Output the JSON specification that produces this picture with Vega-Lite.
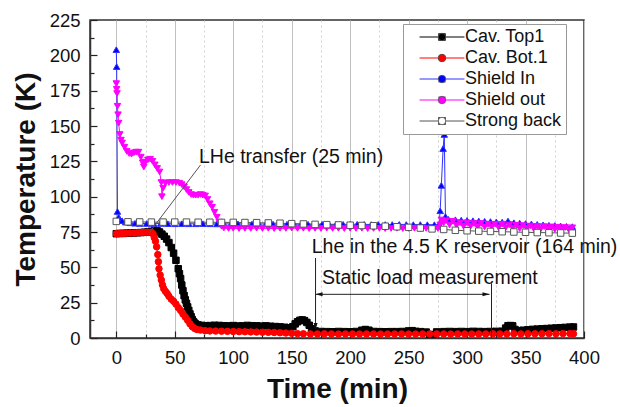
{
  "$schema": "https://vega.github.io/schema/vega-lite/v6.json",
  "width": 494,
  "height": 318,
  "autosize": {"type": "none"},
  "padding": {"left": 90, "top": 20, "right": 36, "bottom": 69},
  "background": "white",
  "config": {
    "font": "Liberation Sans",
    "view": {"stroke": "#333333", "strokeWidth": 1.5},
    "axis": {"labelFont": "Liberation Sans", "titleFont": "Liberation Sans", "labelOverlap": false, "labelBound": false},
    "legend": {"labelFont": "Liberation Sans"}
  },
  "data": {"values": [
    {"series":"Cav. Top1","time":0,"temp":73.8},{"series":"Cav. Top1","time":3,"temp":74},{"series":"Cav. Top1","time":6,"temp":74},{"series":"Cav. Top1","time":9,"temp":74.2},{"series":"Cav. Top1","time":12,"temp":74.3},{"series":"Cav. Top1","time":15,"temp":74.4},{"series":"Cav. Top1","time":18,"temp":74.5},{"series":"Cav. Top1","time":21,"temp":74.6},{"series":"Cav. Top1","time":24,"temp":74.8},{"series":"Cav. Top1","time":27,"temp":75},{"series":"Cav. Top1","time":30,"temp":75.5},{"series":"Cav. Top1","time":33,"temp":76},{"series":"Cav. Top1","time":35,"temp":75.8},{"series":"Cav. Top1","time":37,"temp":75},{"series":"Cav. Top1","time":39,"temp":73.5},{"series":"Cav. Top1","time":41,"temp":72},{"series":"Cav. Top1","time":43,"temp":70},{"series":"Cav. Top1","time":45,"temp":67.5},{"series":"Cav. Top1","time":47,"temp":64},{"series":"Cav. Top1","time":49,"temp":60},{"series":"Cav. Top1","time":51,"temp":55},{"series":"Cav. Top1","time":53,"temp":49},{"series":"Cav. Top1","time":54,"temp":45.5},{"series":"Cav. Top1","time":55,"temp":42},{"series":"Cav. Top1","time":56,"temp":37.5},{"series":"Cav. Top1","time":57,"temp":33.5},{"series":"Cav. Top1","time":58,"temp":30},{"series":"Cav. Top1","time":59,"temp":27},{"series":"Cav. Top1","time":60,"temp":24.5},{"series":"Cav. Top1","time":61,"temp":22},{"series":"Cav. Top1","time":62,"temp":19.5},{"series":"Cav. Top1","time":63,"temp":17},{"series":"Cav. Top1","time":64,"temp":15},{"series":"Cav. Top1","time":65,"temp":13},{"series":"Cav. Top1","time":66,"temp":11.5},{"series":"Cav. Top1","time":67,"temp":10.5},{"series":"Cav. Top1","time":68,"temp":9.8},{"series":"Cav. Top1","time":70,"temp":9.2},{"series":"Cav. Top1","time":73,"temp":8.9},{"series":"Cav. Top1","time":76,"temp":8.7},{"series":"Cav. Top1","time":80,"temp":8.8},{"series":"Cav. Top1","time":84,"temp":9},{"series":"Cav. Top1","time":88,"temp":8.9},{"series":"Cav. Top1","time":92,"temp":8.7},{"series":"Cav. Top1","time":96,"temp":8.6},{"series":"Cav. Top1","time":100,"temp":8.8},{"series":"Cav. Top1","time":104,"temp":8.5},{"series":"Cav. Top1","time":108,"temp":8.6},{"series":"Cav. Top1","time":112,"temp":8.9},{"series":"Cav. Top1","time":116,"temp":8.7},{"series":"Cav. Top1","time":120,"temp":8.6},{"series":"Cav. Top1","time":124,"temp":8.4},{"series":"Cav. Top1","time":128,"temp":8.6},{"series":"Cav. Top1","time":132,"temp":8.3},{"series":"Cav. Top1","time":136,"temp":8.1},{"series":"Cav. Top1","time":140,"temp":7.9},{"series":"Cav. Top1","time":144,"temp":7.6},{"series":"Cav. Top1","time":148,"temp":7.2},{"series":"Cav. Top1","time":151,"temp":8},{"series":"Cav. Top1","time":153,"temp":10},{"series":"Cav. Top1","time":155,"temp":11.5},{"series":"Cav. Top1","time":157,"temp":12.5},{"series":"Cav. Top1","time":159,"temp":12.8},{"series":"Cav. Top1","time":161,"temp":12.3},{"series":"Cav. Top1","time":163,"temp":11},{"series":"Cav. Top1","time":165,"temp":9},{"series":"Cav. Top1","time":167,"temp":6.5},{"series":"Cav. Top1","time":170,"temp":5},{"series":"Cav. Top1","time":175,"temp":4.6},{"series":"Cav. Top1","time":180,"temp":4.5},{"series":"Cav. Top1","time":185,"temp":4.4},{"series":"Cav. Top1","time":190,"temp":4.6},{"series":"Cav. Top1","time":195,"temp":4.5},{"series":"Cav. Top1","time":200,"temp":4.4},{"series":"Cav. Top1","time":205,"temp":4.6},{"series":"Cav. Top1","time":210,"temp":5.5},{"series":"Cav. Top1","time":213,"temp":6},{"series":"Cav. Top1","time":216,"temp":5.5},{"series":"Cav. Top1","time":220,"temp":4.6},{"series":"Cav. Top1","time":225,"temp":4.5},{"series":"Cav. Top1","time":230,"temp":4.4},{"series":"Cav. Top1","time":235,"temp":4.5},{"series":"Cav. Top1","time":240,"temp":4.5},{"series":"Cav. Top1","time":245,"temp":4.6},{"series":"Cav. Top1","time":250,"temp":5},{"series":"Cav. Top1","time":253,"temp":5.2},{"series":"Cav. Top1","time":256,"temp":4.7},{"series":"Cav. Top1","time":260,"temp":4.5},{"series":"Cav. Top1","time":265,"temp":4.2},{"series":"Cav. Top1","time":268,"temp":2.5},{"series":"Cav. Top1","time":271,"temp":2.3},{"series":"Cav. Top1","time":274,"temp":4.3},{"series":"Cav. Top1","time":280,"temp":4.5},{"series":"Cav. Top1","time":285,"temp":4.6},{"series":"Cav. Top1","time":290,"temp":4.5},{"series":"Cav. Top1","time":295,"temp":4.6},{"series":"Cav. Top1","time":300,"temp":4.5},{"series":"Cav. Top1","time":305,"temp":4.7},{"series":"Cav. Top1","time":310,"temp":4.6},{"series":"Cav. Top1","time":315,"temp":4.5},{"series":"Cav. Top1","time":320,"temp":4.6},{"series":"Cav. Top1","time":325,"temp":4.7},{"series":"Cav. Top1","time":330,"temp":4.8},{"series":"Cav. Top1","time":333,"temp":7},{"series":"Cav. Top1","time":335,"temp":8.7},{"series":"Cav. Top1","time":337,"temp":8.8},{"series":"Cav. Top1","time":339,"temp":8.6},{"series":"Cav. Top1","time":341,"temp":6},{"series":"Cav. Top1","time":344,"temp":5.2},{"series":"Cav. Top1","time":348,"temp":5.5},{"series":"Cav. Top1","time":352,"temp":5.8},{"series":"Cav. Top1","time":356,"temp":6.1},{"series":"Cav. Top1","time":360,"temp":6.3},{"series":"Cav. Top1","time":364,"temp":6.5},{"series":"Cav. Top1","time":368,"temp":6.7},{"series":"Cav. Top1","time":372,"temp":6.9},{"series":"Cav. Top1","time":376,"temp":7.1},{"series":"Cav. Top1","time":380,"temp":7.3},{"series":"Cav. Top1","time":384,"temp":7.5},{"series":"Cav. Top1","time":388,"temp":7.7},{"series":"Cav. Top1","time":391,"temp":7.8},
    {"series":"Cav. Bot.1","time":0,"temp":73.8},{"series":"Cav. Bot.1","time":3,"temp":74},{"series":"Cav. Bot.1","time":6,"temp":74},{"series":"Cav. Bot.1","time":9,"temp":74.2},{"series":"Cav. Bot.1","time":12,"temp":74.3},{"series":"Cav. Bot.1","time":15,"temp":74.3},{"series":"Cav. Bot.1","time":18,"temp":74.5},{"series":"Cav. Bot.1","time":21,"temp":74.6},{"series":"Cav. Bot.1","time":24,"temp":74.7},{"series":"Cav. Bot.1","time":27,"temp":74.8},{"series":"Cav. Bot.1","time":30,"temp":74.8},{"series":"Cav. Bot.1","time":31.5,"temp":73.5},{"series":"Cav. Bot.1","time":32.5,"temp":71},{"series":"Cav. Bot.1","time":33.5,"temp":68.5},{"series":"Cav. Bot.1","time":34.5,"temp":64.5},{"series":"Cav. Bot.1","time":35.5,"temp":59},{"series":"Cav. Bot.1","time":36,"temp":54},{"series":"Cav. Bot.1","time":36.5,"temp":49},{"series":"Cav. Bot.1","time":37.5,"temp":44.5},{"series":"Cav. Bot.1","time":38.5,"temp":41},{"series":"Cav. Bot.1","time":39.5,"temp":37.5},{"series":"Cav. Bot.1","time":40.5,"temp":35},{"series":"Cav. Bot.1","time":42,"temp":33},{"series":"Cav. Bot.1","time":43.5,"temp":31.5},{"series":"Cav. Bot.1","time":45,"temp":29.5},{"series":"Cav. Bot.1","time":47,"temp":27.5},{"series":"Cav. Bot.1","time":49,"temp":26},{"series":"Cav. Bot.1","time":51,"temp":24},{"series":"Cav. Bot.1","time":53,"temp":21.5},{"series":"Cav. Bot.1","time":55,"temp":19.5},{"series":"Cav. Bot.1","time":57,"temp":17},{"series":"Cav. Bot.1","time":59,"temp":14.8},{"series":"Cav. Bot.1","time":61,"temp":12.5},{"series":"Cav. Bot.1","time":63,"temp":10},{"series":"Cav. Bot.1","time":65,"temp":8},{"series":"Cav. Bot.1","time":67,"temp":6.8},{"series":"Cav. Bot.1","time":69,"temp":6},{"series":"Cav. Bot.1","time":72,"temp":5.6},{"series":"Cav. Bot.1","time":76,"temp":5.2},{"series":"Cav. Bot.1","time":80,"temp":5},{"series":"Cav. Bot.1","time":85,"temp":4.9},{"series":"Cav. Bot.1","time":90,"temp":4.8},{"series":"Cav. Bot.1","time":95,"temp":4.7},{"series":"Cav. Bot.1","time":100,"temp":4.6},{"series":"Cav. Bot.1","time":105,"temp":4.5},{"series":"Cav. Bot.1","time":110,"temp":4.4},{"series":"Cav. Bot.1","time":115,"temp":4.3},{"series":"Cav. Bot.1","time":120,"temp":4.2},{"series":"Cav. Bot.1","time":125,"temp":4.1},{"series":"Cav. Bot.1","time":130,"temp":4},{"series":"Cav. Bot.1","time":135,"temp":3.9},{"series":"Cav. Bot.1","time":140,"temp":3.7},{"series":"Cav. Bot.1","time":145,"temp":3.5},{"series":"Cav. Bot.1","time":150,"temp":3.3},{"series":"Cav. Bot.1","time":155,"temp":3.1},{"series":"Cav. Bot.1","time":160,"temp":3},{"series":"Cav. Bot.1","time":166,"temp":2.9},{"series":"Cav. Bot.1","time":172,"temp":2.9},{"series":"Cav. Bot.1","time":178,"temp":3},{"series":"Cav. Bot.1","time":184,"temp":2.9},{"series":"Cav. Bot.1","time":190,"temp":2.8},{"series":"Cav. Bot.1","time":196,"temp":2.9},{"series":"Cav. Bot.1","time":202,"temp":2.9},{"series":"Cav. Bot.1","time":208,"temp":2.8},{"series":"Cav. Bot.1","time":214,"temp":2.9},{"series":"Cav. Bot.1","time":220,"temp":2.9},{"series":"Cav. Bot.1","time":226,"temp":2.8},{"series":"Cav. Bot.1","time":232,"temp":2.8},{"series":"Cav. Bot.1","time":238,"temp":2.9},{"series":"Cav. Bot.1","time":244,"temp":2.9},{"series":"Cav. Bot.1","time":250,"temp":2.8},{"series":"Cav. Bot.1","time":256,"temp":2.8},{"series":"Cav. Bot.1","time":262,"temp":2.9},{"series":"Cav. Bot.1","time":268,"temp":2.8},{"series":"Cav. Bot.1","time":274,"temp":2.9},{"series":"Cav. Bot.1","time":280,"temp":2.9},{"series":"Cav. Bot.1","time":286,"temp":2.8},{"series":"Cav. Bot.1","time":292,"temp":2.9},{"series":"Cav. Bot.1","time":298,"temp":2.9},{"series":"Cav. Bot.1","time":304,"temp":2.8},{"series":"Cav. Bot.1","time":310,"temp":2.9},{"series":"Cav. Bot.1","time":316,"temp":2.9},{"series":"Cav. Bot.1","time":322,"temp":3},{"series":"Cav. Bot.1","time":328,"temp":2.9},{"series":"Cav. Bot.1","time":334,"temp":2.9},{"series":"Cav. Bot.1","time":340,"temp":3},{"series":"Cav. Bot.1","time":346,"temp":2.9},{"series":"Cav. Bot.1","time":352,"temp":3},{"series":"Cav. Bot.1","time":358,"temp":3},{"series":"Cav. Bot.1","time":364,"temp":3},{"series":"Cav. Bot.1","time":370,"temp":3.1},{"series":"Cav. Bot.1","time":376,"temp":3},{"series":"Cav. Bot.1","time":382,"temp":3.1},{"series":"Cav. Bot.1","time":388,"temp":3.1},{"series":"Cav. Bot.1","time":391,"temp":3},
    {"series":"Shield In","time":0,"temp":204},{"series":"Shield In","time":0.3,"temp":192},{"series":"Shield In","time":1,"temp":89.5},{"series":"Shield In","time":2,"temp":85.5},{"series":"Shield In","time":3,"temp":84},{"series":"Shield In","time":5,"temp":83},{"series":"Shield In","time":8,"temp":82},{"series":"Shield In","time":12,"temp":81.5},{"series":"Shield In","time":16,"temp":81.2},{"series":"Shield In","time":20,"temp":81},{"series":"Shield In","time":26,"temp":81},{"series":"Shield In","time":32,"temp":80.9},{"series":"Shield In","time":38,"temp":81},{"series":"Shield In","time":44,"temp":80.9},{"series":"Shield In","time":50,"temp":80.8},{"series":"Shield In","time":56,"temp":80.9},{"series":"Shield In","time":62,"temp":80.8},{"series":"Shield In","time":68,"temp":80.8},{"series":"Shield In","time":74,"temp":80.9},{"series":"Shield In","time":80,"temp":80.8},{"series":"Shield In","time":86,"temp":80.7},{"series":"Shield In","time":92,"temp":80.8},{"series":"Shield In","time":98,"temp":80.7},{"series":"Shield In","time":104,"temp":80.8},{"series":"Shield In","time":110,"temp":80.7},{"series":"Shield In","time":116,"temp":80.7},{"series":"Shield In","time":122,"temp":80.6},{"series":"Shield In","time":128,"temp":80.7},{"series":"Shield In","time":134,"temp":80.6},{"series":"Shield In","time":140,"temp":80.6},{"series":"Shield In","time":146,"temp":80.5},{"series":"Shield In","time":152,"temp":80.6},{"series":"Shield In","time":158,"temp":80.5},{"series":"Shield In","time":164,"temp":80.5},{"series":"Shield In","time":170,"temp":80.6},{"series":"Shield In","time":176,"temp":80.5},{"series":"Shield In","time":182,"temp":80.4},{"series":"Shield In","time":188,"temp":80.5},{"series":"Shield In","time":194,"temp":80.4},{"series":"Shield In","time":200,"temp":80.4},{"series":"Shield In","time":206,"temp":80.5},{"series":"Shield In","time":212,"temp":80.4},{"series":"Shield In","time":218,"temp":80.3},{"series":"Shield In","time":224,"temp":80.4},{"series":"Shield In","time":230,"temp":80.3},{"series":"Shield In","time":236,"temp":80.3},{"series":"Shield In","time":242,"temp":80.4},{"series":"Shield In","time":248,"temp":80.3},{"series":"Shield In","time":254,"temp":80.2},{"series":"Shield In","time":260,"temp":80.3},{"series":"Shield In","time":266,"temp":80.2},{"series":"Shield In","time":272,"temp":80.2},{"series":"Shield In","time":276,"temp":80.2},{"series":"Shield In","time":277,"temp":90},{"series":"Shield In","time":278,"temp":108},{"series":"Shield In","time":279.5,"temp":134},{"series":"Shield In","time":280.5,"temp":144},{"series":"Shield In","time":281.5,"temp":86},{"series":"Shield In","time":284,"temp":84},{"series":"Shield In","time":290,"temp":83.7},{"series":"Shield In","time":295,"temp":83.4},{"series":"Shield In","time":300,"temp":83.2},{"series":"Shield In","time":305,"temp":83},{"series":"Shield In","time":310,"temp":82.8},{"series":"Shield In","time":315,"temp":82.6},{"series":"Shield In","time":320,"temp":82.4},{"series":"Shield In","time":325,"temp":82.2},{"series":"Shield In","time":330,"temp":82},{"series":"Shield In","time":335,"temp":82.8},{"series":"Shield In","time":340,"temp":81.6},{"series":"Shield In","time":345,"temp":81.3},{"series":"Shield In","time":350,"temp":81},{"series":"Shield In","time":355,"temp":80.7},{"series":"Shield In","time":360,"temp":80.4},{"series":"Shield In","time":365,"temp":80.1},{"series":"Shield In","time":370,"temp":79.8},{"series":"Shield In","time":375,"temp":79.6},{"series":"Shield In","time":380,"temp":79.3},{"series":"Shield In","time":385,"temp":79},{"series":"Shield In","time":390,"temp":78.8},
    {"series":"Shield out","time":0,"temp":180},{"series":"Shield out","time":0.3,"temp":176},{"series":"Shield out","time":0.6,"temp":173},{"series":"Shield out","time":1,"temp":164},{"series":"Shield out","time":1.5,"temp":158},{"series":"Shield out","time":2,"temp":152},{"series":"Shield out","time":3,"temp":144},{"series":"Shield out","time":4,"temp":140},{"series":"Shield out","time":5,"temp":138},{"series":"Shield out","time":7,"temp":135},{"series":"Shield out","time":9,"temp":132},{"series":"Shield out","time":11,"temp":130.5},{"series":"Shield out","time":13,"temp":130},{"series":"Shield out","time":15,"temp":131},{"series":"Shield out","time":17,"temp":131.5},{"series":"Shield out","time":19,"temp":131.5},{"series":"Shield out","time":21,"temp":128},{"series":"Shield out","time":22.5,"temp":124},{"series":"Shield out","time":23.5,"temp":121},{"series":"Shield out","time":25,"temp":124.5},{"series":"Shield out","time":27,"temp":126},{"series":"Shield out","time":29,"temp":126.5},{"series":"Shield out","time":31,"temp":125},{"series":"Shield out","time":33,"temp":122.5},{"series":"Shield out","time":35,"temp":120},{"series":"Shield out","time":37,"temp":117.5},{"series":"Shield out","time":38.5,"temp":110},{"series":"Shield out","time":39,"temp":100},{"series":"Shield out","time":40,"temp":106},{"series":"Shield out","time":42,"temp":109.5},{"series":"Shield out","time":45,"temp":110},{"series":"Shield out","time":48,"temp":110},{"series":"Shield out","time":51,"temp":110},{"series":"Shield out","time":54,"temp":109.5},{"series":"Shield out","time":56,"temp":108.5},{"series":"Shield out","time":58,"temp":107},{"series":"Shield out","time":60,"temp":105},{"series":"Shield out","time":62,"temp":103},{"series":"Shield out","time":64,"temp":101.5},{"series":"Shield out","time":66,"temp":101},{"series":"Shield out","time":68,"temp":101},{"series":"Shield out","time":70,"temp":101},{"series":"Shield out","time":72,"temp":101.5},{"series":"Shield out","time":74,"temp":101},{"series":"Shield out","time":76,"temp":100.5},{"series":"Shield out","time":78,"temp":98},{"series":"Shield out","time":80,"temp":95},{"series":"Shield out","time":82,"temp":92.5},{"series":"Shield out","time":84,"temp":89},{"series":"Shield out","time":86,"temp":85.5},{"series":"Shield out","time":88,"temp":82},{"series":"Shield out","time":90,"temp":79},{"series":"Shield out","time":92,"temp":77.8},{"series":"Shield out","time":96,"temp":77.5},{"series":"Shield out","time":100,"temp":77.6},{"series":"Shield out","time":105,"temp":77.4},{"series":"Shield out","time":110,"temp":77.6},{"series":"Shield out","time":115,"temp":77.5},{"series":"Shield out","time":120,"temp":77.7},{"series":"Shield out","time":125,"temp":77.5},{"series":"Shield out","time":130,"temp":77.6},{"series":"Shield out","time":135,"temp":77.4},{"series":"Shield out","time":140,"temp":77.6},{"series":"Shield out","time":145,"temp":77.5},{"series":"Shield out","time":150,"temp":77.7},{"series":"Shield out","time":155,"temp":77.5},{"series":"Shield out","time":160,"temp":77.6},{"series":"Shield out","time":165,"temp":77.4},{"series":"Shield out","time":170,"temp":77.6},{"series":"Shield out","time":175,"temp":77.5},{"series":"Shield out","time":180,"temp":77.7},{"series":"Shield out","time":185,"temp":77.5},{"series":"Shield out","time":190,"temp":77.6},{"series":"Shield out","time":195,"temp":77.4},{"series":"Shield out","time":200,"temp":77.6},{"series":"Shield out","time":205,"temp":77.5},{"series":"Shield out","time":210,"temp":77.6},{"series":"Shield out","time":215,"temp":77.4},{"series":"Shield out","time":220,"temp":77.5},{"series":"Shield out","time":225,"temp":77.6},{"series":"Shield out","time":230,"temp":77.4},{"series":"Shield out","time":235,"temp":77.5},{"series":"Shield out","time":240,"temp":77.6},{"series":"Shield out","time":245,"temp":77.4},{"series":"Shield out","time":250,"temp":77.5},{"series":"Shield out","time":255,"temp":77.6},{"series":"Shield out","time":260,"temp":77.4},{"series":"Shield out","time":265,"temp":77.5},{"series":"Shield out","time":270,"temp":77.6},{"series":"Shield out","time":275,"temp":77.5},{"series":"Shield out","time":277,"temp":80},{"series":"Shield out","time":278,"temp":83.5},{"series":"Shield out","time":280,"temp":81.5},{"series":"Shield out","time":282,"temp":83},{"series":"Shield out","time":285,"temp":80},{"series":"Shield out","time":288,"temp":82.5},{"series":"Shield out","time":291,"temp":79.5},{"series":"Shield out","time":294,"temp":81.5},{"series":"Shield out","time":297,"temp":79},{"series":"Shield out","time":300,"temp":81.5},{"series":"Shield out","time":303,"temp":79},{"series":"Shield out","time":306,"temp":81},{"series":"Shield out","time":309,"temp":78.5},{"series":"Shield out","time":312,"temp":81},{"series":"Shield out","time":315,"temp":78.5},{"series":"Shield out","time":318,"temp":80.5},{"series":"Shield out","time":321,"temp":78.5},{"series":"Shield out","time":324,"temp":80.5},{"series":"Shield out","time":327,"temp":78},{"series":"Shield out","time":330,"temp":80.5},{"series":"Shield out","time":333,"temp":78},{"series":"Shield out","time":336,"temp":80},{"series":"Shield out","time":339,"temp":77.8},{"series":"Shield out","time":342,"temp":79.8},{"series":"Shield out","time":345,"temp":77.5},{"series":"Shield out","time":348,"temp":79.5},{"series":"Shield out","time":351,"temp":77.5},{"series":"Shield out","time":354,"temp":79.2},{"series":"Shield out","time":357,"temp":77.3},{"series":"Shield out","time":360,"temp":79},{"series":"Shield out","time":363,"temp":77},{"series":"Shield out","time":366,"temp":78.8},{"series":"Shield out","time":369,"temp":77},{"series":"Shield out","time":372,"temp":78.6},{"series":"Shield out","time":375,"temp":76.8},{"series":"Shield out","time":378,"temp":78.4},{"series":"Shield out","time":381,"temp":76.7},{"series":"Shield out","time":384,"temp":78.2},{"series":"Shield out","time":387,"temp":76.6},{"series":"Shield out","time":390,"temp":78},
    {"series":"Strong back","time":0,"temp":82.5},{"series":"Strong back","time":10,"temp":82.2},{"series":"Strong back","time":20,"temp":82.1},{"series":"Strong back","time":30,"temp":82},{"series":"Strong back","time":40,"temp":82},{"series":"Strong back","time":50,"temp":82},{"series":"Strong back","time":60,"temp":82},{"series":"Strong back","time":70,"temp":81.9},{"series":"Strong back","time":80,"temp":81.9},{"series":"Strong back","time":90,"temp":81.8},{"series":"Strong back","time":100,"temp":81.8},{"series":"Strong back","time":110,"temp":81.7},{"series":"Strong back","time":120,"temp":81.6},{"series":"Strong back","time":130,"temp":81.4},{"series":"Strong back","time":140,"temp":81.2},{"series":"Strong back","time":150,"temp":80.9},{"series":"Strong back","time":160,"temp":80.7},{"series":"Strong back","time":170,"temp":80.4},{"series":"Strong back","time":180,"temp":80.2},{"series":"Strong back","time":190,"temp":80},{"series":"Strong back","time":200,"temp":79.8},{"series":"Strong back","time":210,"temp":79.6},{"series":"Strong back","time":220,"temp":79.4},{"series":"Strong back","time":230,"temp":79.1},{"series":"Strong back","time":240,"temp":78.7},{"series":"Strong back","time":250,"temp":78.3},{"series":"Strong back","time":260,"temp":77.8},{"series":"Strong back","time":270,"temp":77.2},{"series":"Strong back","time":280,"temp":76.8},{"series":"Strong back","time":290,"temp":76.2},{"series":"Strong back","time":300,"temp":75.9},{"series":"Strong back","time":310,"temp":75.6},{"series":"Strong back","time":320,"temp":75.4},{"series":"Strong back","time":330,"temp":75.2},{"series":"Strong back","time":340,"temp":75},{"series":"Strong back","time":350,"temp":74.8},{"series":"Strong back","time":360,"temp":74.6},{"series":"Strong back","time":370,"temp":74.5},{"series":"Strong back","time":380,"temp":74.3},{"series":"Strong back","time":390,"temp":74.2}
  ]},
  "encoding": {
    "x": {
      "field": "time", "type": "quantitative",
      "scale": {"domain": [-22.5, 400], "nice": false, "zero": false},
      "axis": {
        "title": "Time (min)",
        "values": [0,25,50,75,100,125,150,175,200,225,250,275,300,325,350,375,400],
        "labelExpr": "datum.value % 50 === 0 ? datum.label : ''",
        "grid": true,
        "gridColor": {"condition": {"test": "datum.value % 50 === 0", "value": "#c0c0c0"}, "value": "#d0d0d0"},
        "gridDash": {"condition": {"test": "datum.value % 50 === 0", "value": []}, "value": [2, 3]},
        "gridWidth": 1,
        "tickSize": {"condition": {"test": "datum.value % 50 === 0", "value": -7}, "value": -4},
        "tickColor": "#222222", "tickWidth": 1.2,
        "domainColor": "#333333", "domainWidth": 1.5,
        "labelFontSize": 18.5, "labelColor": "#111111", "labelPadding": 17,
        "labelFlush": false, "labelOverlap": false,
        "titleFontSize": 28, "titleFontWeight": "bold", "titleColor": "#111111", "titlePadding": 6
      }
    },
    "y": {
      "field": "temp", "type": "quantitative",
      "scale": {"domain": [0, 225], "nice": false, "zero": false},
      "axis": {
        "title": "Temperature (K)",
        "values": [0,12.5,25,37.5,50,62.5,75,87.5,100,112.5,125,137.5,150,162.5,175,187.5,200,212.5,225],
        "labelExpr": "datum.value % 25 === 0 ? format(datum.value, 'd') : ''",
        "grid": false,
        "tickSize": {"condition": {"test": "datum.value % 25 === 0", "value": -7}, "value": -4},
        "tickColor": "#222222", "tickWidth": 1.2,
        "domainColor": "#333333", "domainWidth": 1.5,
        "labelFontSize": 18.5, "labelColor": "#111111", "labelPadding": 17,
        "labelFlush": false, "labelOverlap": false,
        "titleFontSize": 28, "titleFontWeight": "bold", "titleColor": "#111111", "titlePadding": 9
      }
    }
  },
  "layer": [
    {
      "mark": {"type": "line", "strokeWidth": 1, "clip": true},
      "encoding": {
        "stroke": {
          "field": "series", "type": "nominal",
          "scale": {"domain": ["Cav. Top1", "Cav. Bot.1", "Shield In", "Shield out", "Strong back"], "range": ["#000000", "#ff0000", "#3030ff", "#ff00ff", "#555555"]},
          "legend": {
            "orient": "none", "legendX": 313, "legendY": 4, "title": null,
            "symbolType": "M-6,0H6", "symbolSize": 56, "symbolStrokeWidth": 1,
            "symbolOffset": 26, "labelOffset": 14,
            "labelFontSize": 18, "labelColor": "#111111",
            "fillColor": "white", "strokeColor": "#999999", "padding": 4, "rowPadding": 3,
            "zindex": 1
          }
        }
      }
    },
    {
      "mark": {"type": "point", "filled": true, "size": 42, "strokeWidth": 1, "opacity": 1, "clip": true},
      "encoding": {
        "stroke": {"field": "series", "type": "nominal"},
        "shape": {
          "field": "series", "type": "nominal",
          "sort": ["Cav. Top1", "Cav. Bot.1", "Shield In", "Shield out", "Strong back"],
          "scale": {"range": ["square", "circle", "triangle-up", "triangle-down", "square"]},
          "legend": {
            "orient": "none", "legendX": 313, "legendY": 4, "title": null,
            "symbolSize": 56, "symbolOffset": 26, "labelOffset": 14,
            "labelFontSize": 18, "labelOpacity": 0,
            "symbolStrokeColor": "#555555", "symbolStrokeWidth": 0.8,
            "padding": 4, "rowPadding": 3, "zindex": 2
          }
        },
        "fill": {
          "field": "series", "type": "nominal",
          "sort": ["Cav. Top1", "Cav. Bot.1", "Shield In", "Shield out", "Strong back"],
          "scale": {"range": ["#000000", "#ff0000", "#0000ff", "#ff00ff", "#ffffff"]},
          "legend": {
            "orient": "none", "legendX": 313, "legendY": 4, "title": null,
            "symbolSize": 56, "symbolOffset": 26, "labelOffset": 14,
            "labelFontSize": 18, "labelOpacity": 0,
            "symbolStrokeColor": "#555555", "symbolStrokeWidth": 0.8,
            "padding": 4, "rowPadding": 3, "zindex": 2
          }
        }
      }
    },
    {
      "data": {"values": [{"time": 28, "temp": 74.3, "time2": 72, "temp2": 122.4}]},
      "mark": {"type": "rule", "color": "#555555", "strokeWidth": 1},
      "encoding": {"x2": {"field": "time2"}, "y2": {"field": "temp2"}}
    },
    {
      "data": {"values": [
        {"time": 70.7, "temp": 128.2, "note": "LHe transfer (25 min)"},
        {"time": 167.1, "temp": 64.4, "note": "Lhe in the 4.5 K reservoir (164 min)"},
        {"time": 176, "temp": 42.2, "note": "Static load measurement"}
      ]},
      "mark": {"type": "text", "align": "left", "baseline": "middle", "fontSize": 19.5, "font": "Liberation Sans", "color": "#111111"},
      "encoding": {"text": {"field": "note", "type": "nominal"}}
    },
    {
      "data": {"values": [{"time": 170.4, "temp": 56.6, "temp2": 8}, {"time": 320.9, "temp": 38.7, "temp2": 0}]},
      "mark": {"type": "rule", "color": "#222222", "strokeWidth": 1},
      "encoding": {"y2": {"field": "temp2"}}
    },
    {
      "data": {"values": [{"time": 170.4, "temp": 30.9, "time2": 319.2}]},
      "mark": {"type": "rule", "color": "#222222", "strokeWidth": 1},
      "encoding": {"x2": {"field": "time2"}}
    },
    {
      "data": {"values": [{"time": 170.4, "temp": 5.7}]},
      "mark": {"type": "point", "shape": "M0,0L-2,-7L2,-7Z", "size": 4, "filled": true, "color": "#111111", "opacity": 1, "strokeWidth": 0},
      "encoding": {}
    },
    {
      "data": {"values": [{"time": 170.4, "temp": 30.9}]},
      "mark": {"type": "point", "shape": "M0,0L7,-2L7,2Z", "size": 4, "filled": true, "color": "#111111", "opacity": 1, "strokeWidth": 0},
      "encoding": {}
    },
    {
      "data": {"values": [{"time": 319.2, "temp": 30.9}]},
      "mark": {"type": "point", "shape": "M0,0L-7,-2L-7,2Z", "size": 4, "filled": true, "color": "#111111", "opacity": 1, "strokeWidth": 0},
      "encoding": {}
    }
  ]
}
